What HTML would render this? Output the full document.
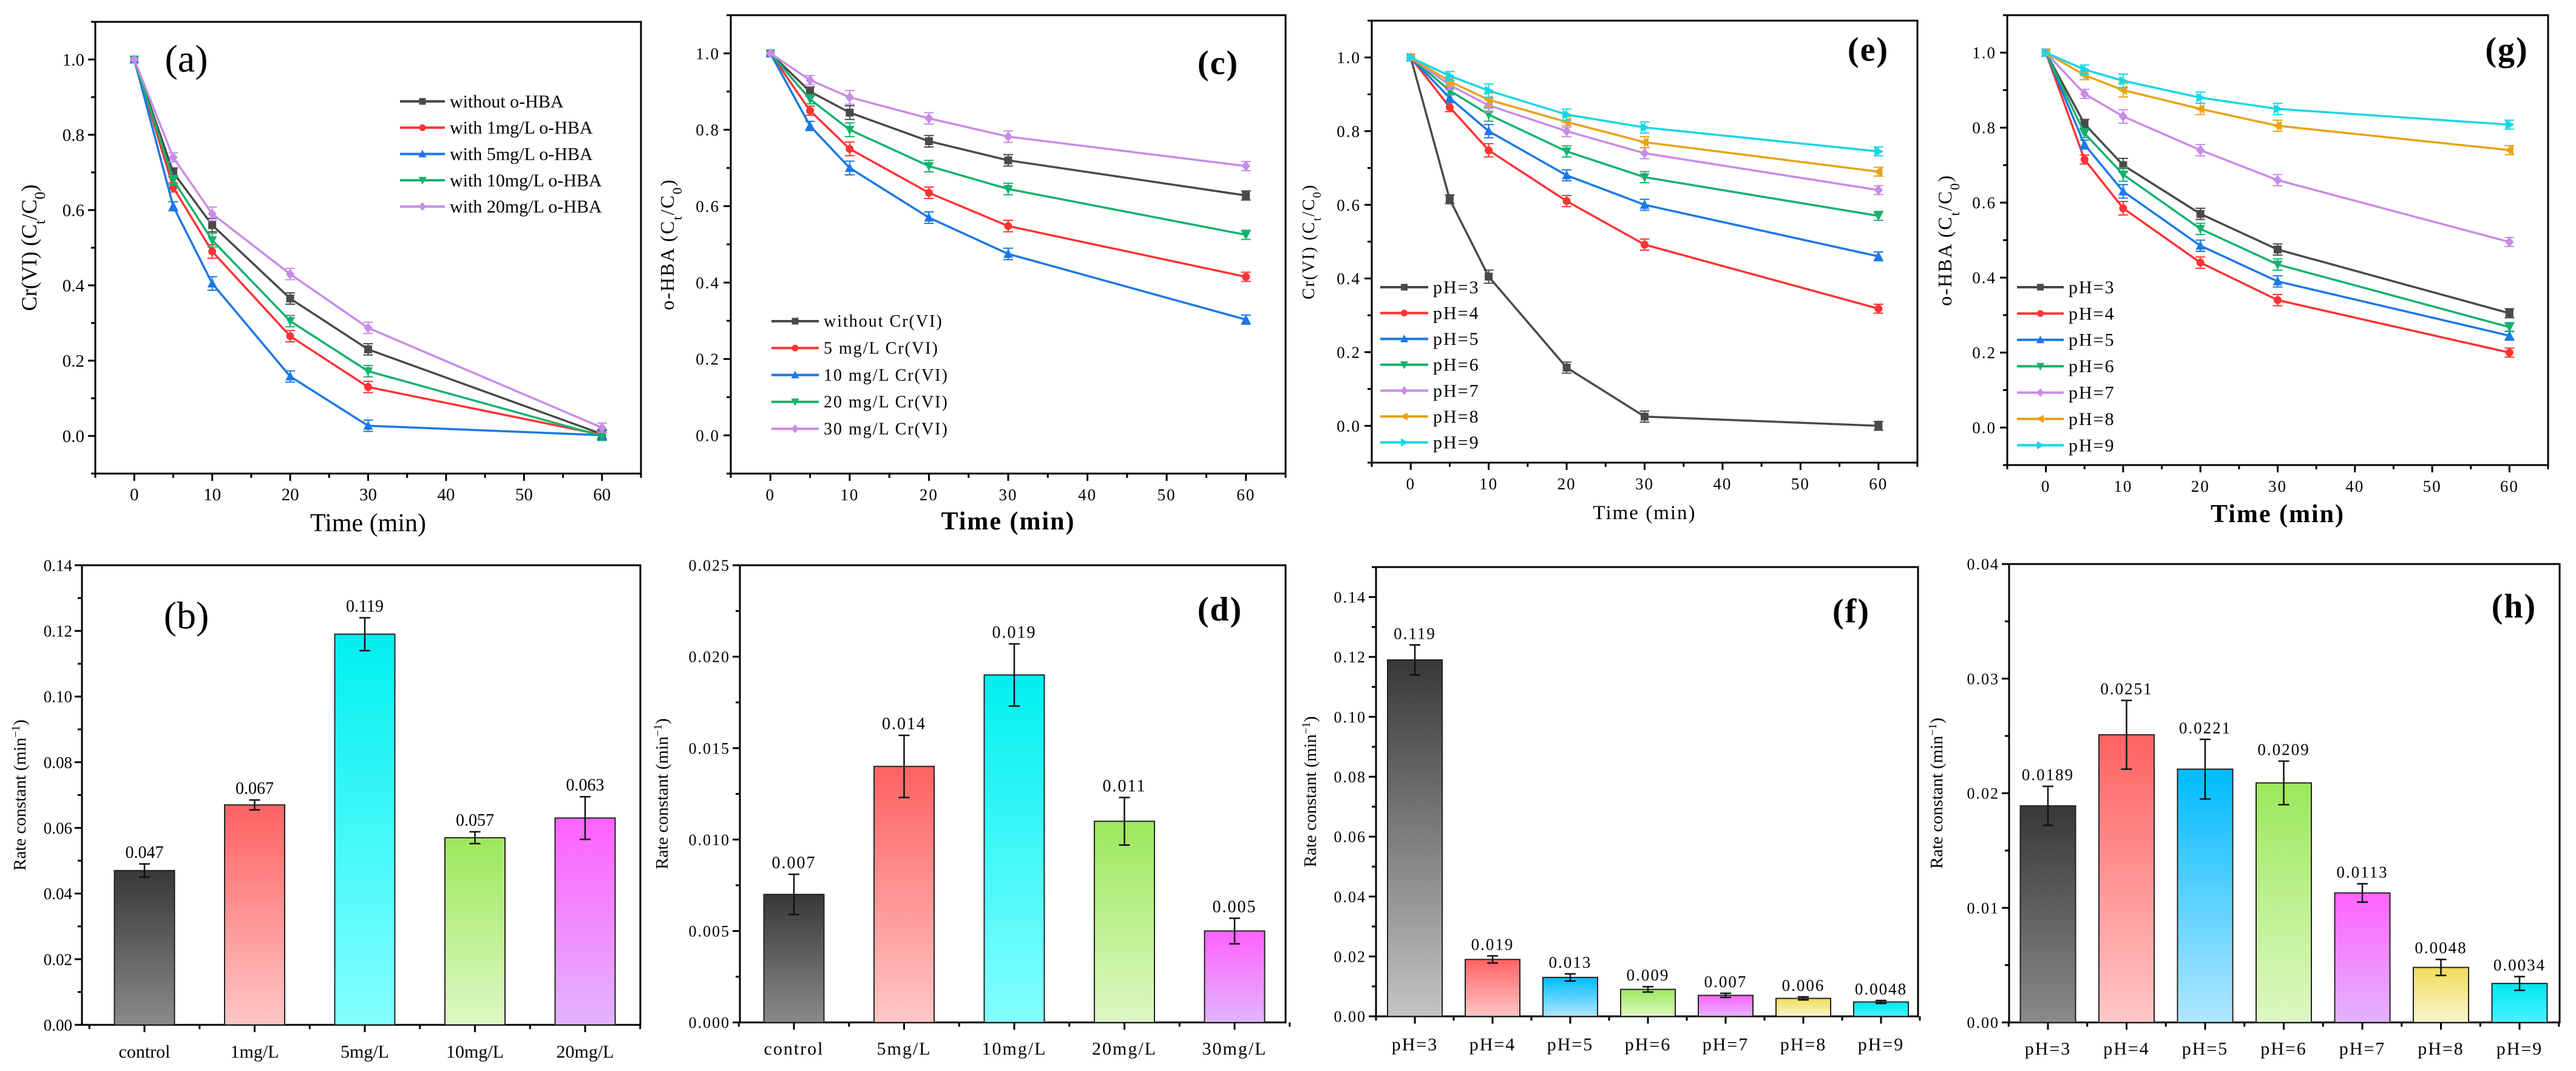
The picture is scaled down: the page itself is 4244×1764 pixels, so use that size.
<!DOCTYPE html>
<html><head><meta charset="utf-8"><style>
html,body{margin:0;padding:0;background:#fff}
svg{display:block;font-family:"Liberation Serif",serif}
</style></head><body>
<svg id="fig" xmlns="http://www.w3.org/2000/svg" width="4244" height="1764" viewBox="0 0 4244 1764"></svg>
<script>
// ---------- data ----------
const timeX = [0,5,10,20,30,60];
const aNames = ["without o-HBA","with 1mg/L o-HBA","with 5mg/L o-HBA","with 10mg/L o-HBA","with 20mg/L o-HBA"];
const aS0 = [1,0.70,0.56,0.365,0.23,0.005];
const aS1 = [1,0.66,0.49,0.265,0.13,0.003];
const aS2 = [1,0.61,0.405,0.158,0.027,0.002];
const aS3 = [1,0.68,0.52,0.305,0.172,0.0];
const aS4 = [1,0.74,0.59,0.43,0.287,0.022];
const cNames = ["without Cr(VI)","5 mg/L Cr(VI)","10 mg/L Cr(VI)","20 mg/L Cr(VI)","30 mg/L Cr(VI)"];
const cS0 = [1,0.90,0.845,0.77,0.72,0.628];
const cS1 = [1,0.85,0.75,0.635,0.548,0.415];
const cS2 = [1,0.81,0.70,0.57,0.475,0.303];
const cS3 = [1,0.88,0.80,0.705,0.645,0.525];
const cS4 = [1,0.93,0.885,0.83,0.782,0.705];
const phNames = ["pH=3","pH=4","pH=5","pH=6","pH=7","pH=8","pH=9"];
const eS0 = [1,0.615,0.405,0.158,0.025,0.0];
const eS1 = [1,0.865,0.748,0.61,0.492,0.318];
const eS2 = [1,0.89,0.80,0.68,0.60,0.46];
const eS3 = [1,0.91,0.845,0.745,0.675,0.57];
const eS4 = [1,0.925,0.87,0.80,0.74,0.64];
const eS5 = [1,0.935,0.885,0.825,0.77,0.69];
const eS6 = [1,0.95,0.91,0.845,0.81,0.745];
const gS0 = [1,0.81,0.70,0.57,0.475,0.305];
const gS1 = [1,0.715,0.585,0.44,0.34,0.20];
const gS2 = [1,0.755,0.63,0.485,0.39,0.245];
const gS3 = [1,0.785,0.675,0.53,0.435,0.268];
const gS4 = [1,0.89,0.83,0.74,0.66,0.495];
const gS5 = [1,0.94,0.90,0.85,0.805,0.74];
const gS6 = [1,0.955,0.925,0.88,0.85,0.808];
const lineErr = [0,0.012,0.018,0.015,0.015,0.012];
const xTicks = [0,10,20,30,40,50,60];
const yTicksLine = ["0.0","0.2","0.4","0.6","0.8","1.0"];

const bCats = ["control","1mg/L","5mg/L","10mg/L","20mg/L"];
const bVals = [0.047,0.067,0.119,0.057,0.063];
const bErrs = [0.002,0.0015,0.005,0.0018,0.0065];
const bLabels = ["0.047","0.067","0.119","0.057","0.063"];
const bTicks = ["0.00","0.02","0.04","0.06","0.08","0.10","0.12","0.14"];
const dCats = ["control","5mg/L","10mg/L","20mg/L","30mg/L"];
const dVals = [0.007,0.014,0.019,0.011,0.005];
const dErrs = [0.0011,0.0017,0.0017,0.0013,0.0007];
const dLabels = ["0.007","0.014","0.019","0.011","0.005"];
const dTicks = ["0.000","0.005","0.010","0.015","0.020","0.025"];
const fVals = [0.119,0.019,0.013,0.009,0.007,0.006,0.0048];
const fErrs = [0.005,0.0012,0.0012,0.0009,0.0007,0.0005,0.0005];
const fLabels = ["0.119","0.019","0.013","0.009","0.007","0.006","0.0048"];
const fTicks = ["0.00","0.02","0.04","0.06","0.08","0.10","0.12","0.14"];
const hVals = [0.0189,0.0251,0.0221,0.0209,0.0113,0.0048,0.0034];
const hErrs = [0.0017,0.003,0.0026,0.0019,0.0008,0.0007,0.0006];
const hLabels = ["0.0189","0.0251","0.0221","0.0209","0.0113","0.0048","0.0034"];
const hTicks = ["0.00","0.01","0.02","0.03","0.04"];

// ---------- drawing ----------
const NS="http://www.w3.org/2000/svg";
const svg=document.getElementById('fig');
function el(tag,attrs,parent,txt){const e=document.createElementNS(NS,tag);for(const k in attrs)e.setAttribute(k,attrs[k]);if(txt!==undefined)e.textContent=txt;(parent||svg).appendChild(e);return e;}
const COL5=["#4a4a4a","#ff3333","#1a78e6","#14b26e","#c98be8"];
const COL7=["#4a4a4a","#ff3333","#1a78e6","#14b26e","#c98be8","#e8a317","#18d6e6"];
const MK5=["sq","ci","tu","td","di"];
const MK7=["sq","ci","tu","td","di","tl","tr"];
function marker(g,t,x,y,c,s){
  let m;
  if(t==="sq")m=el('rect',{x:x-s,y:y-s,width:2*s,height:2*s,fill:c},g);
  else if(t==="ci")m=el('circle',{cx:x,cy:y,r:s,fill:c},g);
  else{let p;
    if(t==="tu")p=[[x,y-s*1.3],[x-s*1.2,y+s],[x+s*1.2,y+s]];
    if(t==="td")p=[[x,y+s*1.3],[x-s*1.2,y-s],[x+s*1.2,y-s]];
    if(t==="di")p=[[x,y-s*1.3],[x+s*1.1,y],[x,y+s*1.3],[x-s*1.1,y]];
    if(t==="tl")p=[[x-s*1.3,y],[x+s,y-s*1.2],[x+s,y+s*1.2]];
    if(t==="tr")p=[[x+s*1.3,y],[x-s,y-s*1.2],[x-s,y+s*1.2]];
    m=el('polygon',{points:p.map(q=>q.join(',')).join(' '),fill:c},g);}
  
  
}
function frame(g,L,T,R,B){
  el('rect',{x:L,y:T,width:R-L,height:B-T,fill:'none',stroke:'#000','stroke-width':3,},g);
}
function linePanel(o){
  const g=el('g',{'letter-spacing':o.ls||0});
  const X=v=>o.L+(v+5)/70*(o.R-o.L), Y=v=>o.B-(v+0.1)/1.2*(o.B-o.T);
  frame(g,o.L,o.T,o.R,o.B);
  for(let v=-5;v<=65;v+=5){const x=X(v);const maj=v%10===0;el('line',{x1:x,y1:o.B,x2:x,y2:o.B+(maj?12:7),stroke:'#000','stroke-width':3},g);}
  xTicks.forEach(v=>el('text',{x:X(v),y:o.B+44,'font-size':o.fs,'text-anchor':'middle',},g,String(v)));
  for(let i=-1;i<=11;i++){const y=Y(i/10);el('line',{x1:o.L,y1:y,x2:o.L-(i%2===0?12:7),y2:y,stroke:'#000','stroke-width':3},g);}
  yTicksLine.forEach((t,i)=>el('text',{x:o.L-18,y:Y(i*0.2)+o.fs*0.35,'font-size':o.fs,'text-anchor':'end',},g,t));
  el('text',{x:(o.L+o.R)/2,y:o.xtY,'font-size':o.xtFs,'font-weight':o.bold?'bold':'normal','text-anchor':'middle',},g,'Time (min)');
  const yt=el('text',{x:0,y:0,'font-size':o.ytFs,'text-anchor':'middle',transform:`translate(${o.ytX},${(o.T+o.B)/2}) rotate(-90)`,},g);
  yt.innerHTML=o.yTitle+' (C<tspan baseline-shift="sub" font-size="'+(o.ytFs*0.7)+'">t</tspan>/C<tspan baseline-shift="sub" font-size="'+(o.ytFs*0.7)+'">0</tspan>)';
  el('text',{x:o.lblX,y:o.lblY,'font-size':o.lblFs,'font-weight':o.lblBold?'bold':'normal','text-anchor':'middle',},g,o.label);
  o.series.forEach((s,k)=>{
    const c=o.colors[k];
    const sg=el('g',{},g);
    el('polyline',{points:s.map((v,i)=>X(timeX[i])+','+Y(v)).join(' '),fill:'none',stroke:c,'stroke-width':3.5},sg);
    s.forEach((v,i)=>{const x=X(timeX[i]);const e=lineErr[i];
      if(e>0){el('line',{x1:x,y1:Y(v-e),x2:x,y2:Y(v+e),stroke:c,'stroke-width':2},sg);
        el('line',{x1:x-8,y1:Y(v-e),x2:x+8,y2:Y(v-e),stroke:c,'stroke-width':2},sg);
        el('line',{x1:x-8,y1:Y(v+e),x2:x+8,y2:Y(v+e),stroke:c,'stroke-width':2},sg);}
      marker(sg,o.markers[k],x,Y(v),c,6.5);});
    const ly=o.legY+k*o.legStep;
    const lg=el('g',{},g);
    el('line',{x1:o.legX,y1:ly,x2:o.legX+o.legW,y2:ly,stroke:c,'stroke-width':4},lg);
    marker(lg,o.markers[k],o.legX+o.legW/2,ly,c,5.5);
    el('text',{x:o.legX+o.legW+8,y:ly+o.legFs*0.33,'font-size':o.legFs},lg,o.names[k]);
  });
}
const GR={gray:["#383838","#8a8a8a"],gray2:["#383838","#c4c4c4"],red:["#ff6262","#ffc6c6"],cyan:["#00f0f0","#84ffff"],green:["#9ce85c","#def8c4"],mag:["#ff62ff","#e2b4ff"],blue:["#00bcff","#b0e6ff"],yel:["#efdd5c","#faf5cc"],cyan2:["#00e6ee","#4af4ff"]};
let gid=0;
function barPanel(o){
  const g=el('g',{'letter-spacing':o.ls||0});
  const Y=v=>o.B-v/o.max*(o.B-o.T);
  frame(g,o.L,o.T,o.R,o.B);
  const nMin=Math.round(o.max/o.minor);
  for(let i=0;i<=nMin;i++){const y=Y(i*o.minor);el('line',{x1:o.L,y1:y,x2:o.L-(i%2===0?12:7),y2:y,stroke:'#000','stroke-width':3},g);}
  o.ticks.forEach((t,i)=>el('text',{x:o.L-16,y:Y(i*o.minor*2)+o.fs*0.35,'font-size':o.fs,'text-anchor':'end',},g,t));
  const yt=el('text',{x:0,y:0,'font-size':o.ytFs,'text-anchor':'middle','letter-spacing':0,transform:`translate(${o.ytX},${(o.T+o.B)/2}) rotate(-90)`,},g);
  yt.innerHTML='Rate constant (min<tspan baseline-shift="super" font-size="'+(o.ytFs*0.65)+'">−1</tspan>)';
  el('text',{x:o.lblX,y:o.lblY,'font-size':o.lblFs,'font-weight':o.lblBold?'bold':'normal','text-anchor':'middle',},g,o.label);
  const n=o.vals.length;
  for(let i=0;i<=n;i++){const x=o.c0+(i-0.5)*o.step;el('line',{x1:x,y1:o.B,x2:x,y2:o.B+7,stroke:'#000','stroke-width':3},g);}
  o.vals.forEach((v,i)=>{
    const cx=o.c0+i*o.step;const id='gr'+(gid++);const gc=GR[o.grads[i]];
    const lg=el('linearGradient',{id:id,x1:0,y1:0,x2:0,y2:1},g);
    el('stop',{offset:'0%','stop-color':gc[0]},lg);el('stop',{offset:'100%','stop-color':gc[1]},lg);
    const bg=el('g',{},g);
    el('rect',{x:cx-o.bw/2,y:Y(v),width:o.bw,height:o.B-Y(v),fill:'url(#'+id+')',stroke:'#222','stroke-width':2},bg);
    const e=o.errs[i];
    el('line',{x1:cx,y1:Y(v-e),x2:cx,y2:Y(v+e),stroke:'#111','stroke-width':2.5},bg);
    el('line',{x1:cx-9,y1:Y(v-e),x2:cx+9,y2:Y(v-e),stroke:'#111','stroke-width':2.5},bg);
    el('line',{x1:cx-9,y1:Y(v+e),x2:cx+9,y2:Y(v+e),stroke:'#111','stroke-width':2.5},bg);
    el('text',{x:cx,y:Y(v+e)-10,'font-size':o.vfs,'text-anchor':'middle',},bg,o.labels[i]);
    el('line',{x1:cx,y1:o.B,x2:cx,y2:o.B+12,stroke:'#000','stroke-width':3},g);
    el('text',{x:cx,y:o.catY,'font-size':o.cfs,'text-anchor':'middle',},g,o.cats[i]);
  });
}
linePanel({name:'panel-a',L:157,T:36,R:1056,B:780,fs:29,xtY:875,xtFs:42,bold:false,ytX:60,ytFs:36,yTitle:'Cr(VI)',label:'(a)',lblX:307,lblY:118,lblFs:64,
  series:[aS0,aS1,aS2,aS3,aS4],names:aNames,colors:COL5,markers:MK5,legX:659,legY:167,legStep:43.3,legW:74,legFs:30});
linePanel({name:'panel-c',ls:2,L:1204,T:25,R:2118,B:780,fs:27,xtY:872,xtFs:42,bold:true,ytX:1110,ytFs:32,yTitle:'o-HBA',label:'(c)',lblX:2007,lblY:122,lblFs:56,lblBold:true,
  series:[cS0,cS1,cS2,cS3,cS4],names:cNames,colors:COL5,markers:MK5,legX:1271,legY:529,legStep:44.3,legW:78,legFs:28});
linePanel({name:'panel-e',ls:2,L:2260,T:34,R:3159,B:762,fs:27,xtY:855,xtFs:33,bold:false,ytX:2165,ytFs:28,yTitle:'Cr(VI)',label:'(e)',lblX:3078,lblY:100,lblFs:56,lblBold:true,
  series:[eS0,eS1,eS2,eS3,eS4,eS5,eS6],names:phNames,colors:COL7,markers:MK7,legX:2274,legY:473,legStep:42.6,legW:79,legFs:30});
linePanel({name:'panel-g',ls:2,L:3307,T:25,R:4198,B:766,fs:27,xtY:860,xtFs:42,bold:true,ytX:3215,ytFs:32,yTitle:'o-HBA',label:'(g)',lblX:4130,lblY:100,lblFs:56,lblBold:true,
  series:[gS0,gS1,gS2,gS3,gS4,gS5,gS6],names:phNames,colors:COL7,markers:MK7,legX:3323,legY:473,legStep:43.4,legW:77,legFs:30});
barPanel({name:'panel-b',L:135,T:931,R:1055,B:1688,max:0.14,minor:0.01,ticks:bTicks,fs:27,ytX:42,ytFs:29,label:'(b)',lblX:307,lblY:1035,lblFs:64,
  vals:bVals,errs:bErrs,labels:bLabels,cats:bCats,grads:['gray','red','cyan','green','mag'],c0:238,step:181.5,bw:99,vfs:28,cfs:30,catY:1742});
barPanel({name:'panel-d',ls:2,L:1219,T:931,R:2118,B:1684,max:0.025,minor:0.0025,ticks:dTicks,fs:26,ytX:1100,ytFs:29,label:'(d)',lblX:2010,lblY:1022,lblFs:56,lblBold:true,
  vals:dVals,errs:dErrs,labels:dLabels,cats:dCats,grads:['gray','red','cyan','green','mag'],c0:1308,step:181.5,bw:99,vfs:28,cfs:30,catY:1737});
barPanel({name:'panel-f',ls:2,L:2267,T:934,R:3160,B:1674,max:0.15,minor:0.01,ticks:fTicks,fs:26,ytX:2168,ytFs:29,label:'(f)',lblX:3050,lblY:1025,lblFs:56,lblBold:true,
  vals:fVals,errs:fErrs,labels:fLabels,cats:phNames,grads:['gray2','red','blue','green','mag','yel','cyan2'],c0:2331,step:128,bw:90,vfs:27,cfs:30,catY:1730});
barPanel({name:'panel-h',ls:2,L:3310,T:929,R:4217,B:1684,max:0.04,minor:0.005,ticks:hTicks,fs:26,ytX:3200,ytFs:29,label:'(h)',lblX:4142,lblY:1017,lblFs:56,lblBold:true,
  vals:hVals,errs:hErrs,labels:hLabels,cats:phNames,grads:['gray','red','blue','green','mag','yel','cyan2'],c0:3374,step:129.5,bw:91,vfs:27,cfs:30,catY:1737});
</script>
</body></html>
